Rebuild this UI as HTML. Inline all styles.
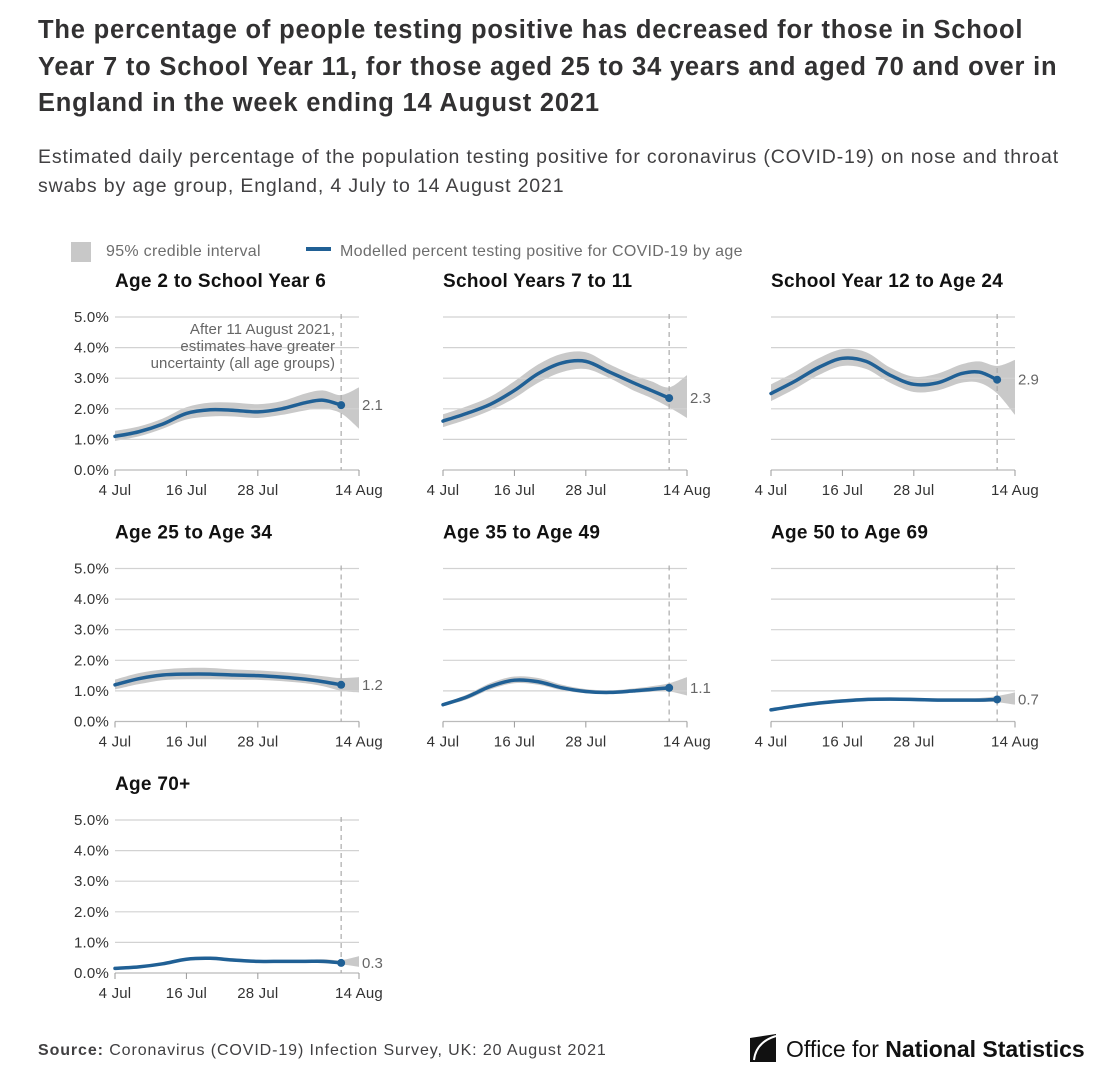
<!DOCTYPE html>
<html><head><meta charset="utf-8">
<style>
body{margin:0;background:#fff;font-family:"Liberation Sans",sans-serif;}
#wrap{position:relative;width:1118px;height:1080px;overflow:hidden;}
.t{position:absolute;left:38px;top:12px;width:1080px;font-size:25.5px;font-weight:bold;color:#323132;line-height:36.5px;letter-spacing:0.8px;white-space:nowrap;}
.s{position:absolute;left:38px;top:143px;width:1080px;font-size:19.5px;color:#414042;line-height:28.5px;letter-spacing:0.85px;white-space:nowrap;}
.src{position:absolute;left:38px;top:1042px;font-size:16px;color:#414042;letter-spacing:0.9px;}
.logo{position:absolute;left:750px;top:1034px;font-size:23px;color:#111;}
</style></head><body>
<div id="wrap">
<div class="t">The percentage of people testing positive has decreased for those in School<br>Year 7 to School Year 11, for those aged 25 to 34 years and aged 70 and over in<br>England in the week ending 14 August 2021</div>
<div class="s">Estimated daily percentage of the population testing positive for coronavirus (COVID-19) on nose and throat<br>swabs by age group, England, 4 July to 14 August 2021</div>
<svg id="chart" width="1118" height="1080" style="position:absolute;left:0;top:0"></svg>
<div class="src"><b>Source:</b> Coronavirus (COVID-19) Infection Survey, UK: 20 August 2021</div>
<div class="logo"><svg width="30" height="28" style="vertical-align:-5px;margin-right:6px"><path d="M0 4 L26 0 L26 28 L0 28 Z" fill="#111"/><path d="M26 2 Q6 8 4 26" stroke="#fff" stroke-width="2" fill="none"/></svg>Office for <b style="font-weight:bold">National Statistics</b></div>
</div>
<script>
const titles=["Age 2 to School Year 6","School Years 7 to 11","School Year 12 to Age 24","Age 25 to Age 34","Age 35 to Age 49","Age 50 to Age 69","Age 70+"];
const days=[0,4,8,12,16,20,24,28,32,35,38,41];
const central=[
[1.1,1.25,1.5,1.85,1.97,1.95,1.9,2.0,2.2,2.28,2.12],
[1.6,1.85,2.15,2.6,3.15,3.5,3.55,3.2,2.85,2.6,2.35],
[2.5,2.9,3.35,3.65,3.55,3.1,2.8,2.85,3.15,3.2,2.95],
[1.2,1.4,1.52,1.55,1.55,1.52,1.5,1.45,1.38,1.3,1.2],
[0.55,0.8,1.15,1.35,1.3,1.1,0.98,0.95,1.0,1.05,1.1],
[0.38,0.5,0.6,0.67,0.72,0.73,0.72,0.7,0.7,0.7,0.72],
[0.15,0.2,0.3,0.45,0.48,0.42,0.38,0.38,0.38,0.38,0.33]];
const lower=[
[0.95,1.1,1.35,1.65,1.75,1.75,1.7,1.8,1.95,2.0,1.85,1.35],
[1.4,1.65,1.95,2.35,2.85,3.2,3.3,3.0,2.6,2.35,2.05,1.7],
[2.25,2.65,3.1,3.4,3.3,2.85,2.55,2.6,2.85,2.85,2.5,1.8],
[1.05,1.22,1.35,1.38,1.38,1.37,1.36,1.32,1.25,1.15,1.0,0.95],
[0.5,0.72,1.05,1.25,1.2,1.02,0.92,0.9,0.94,0.97,0.98,0.85],
[0.33,0.45,0.55,0.62,0.67,0.68,0.67,0.65,0.65,0.64,0.63,0.55],
[0.12,0.17,0.26,0.4,0.43,0.37,0.34,0.34,0.33,0.32,0.28,0.2]];
const upper=[
[1.28,1.42,1.68,2.05,2.2,2.2,2.15,2.25,2.5,2.6,2.45,2.7],
[1.82,2.08,2.4,2.9,3.45,3.8,3.85,3.45,3.1,2.9,2.7,3.1],
[2.8,3.2,3.65,3.95,3.85,3.35,3.05,3.15,3.45,3.55,3.4,3.6],
[1.37,1.58,1.7,1.75,1.75,1.7,1.67,1.62,1.55,1.48,1.42,1.45],
[0.6,0.88,1.26,1.47,1.42,1.2,1.06,1.02,1.08,1.15,1.25,1.45],
[0.42,0.55,0.66,0.73,0.78,0.79,0.78,0.76,0.76,0.77,0.83,0.95],
[0.18,0.23,0.35,0.5,0.54,0.48,0.43,0.43,0.43,0.45,0.42,0.55]];
const endLabels=["2.1","2.3","2.9","1.2","1.1","0.7","0.3"];
const yTicks=[0,1,2,3,4,5];
const xTickDays=[0,12,24,41];
const xTickLabels=["4 Jul","16 Jul","28 Jul","14 Aug"];
const cutoffDay=38;

const svg=document.getElementById('chart');
const NS='http://www.w3.org/2000/svg';
function mk(tag,attrs,parent){const e=document.createElementNS(NS,tag);for(const k in attrs)e.setAttribute(k,attrs[k]);(parent||svg).appendChild(e);return e;}
function smooth(pts){let d='M'+pts[0][0]+' '+pts[0][1];for(let i=0;i<pts.length-1;i++){const p0=pts[i-1]||pts[i],p1=pts[i],p2=pts[i+1],p3=pts[i+2]||p2;
d+=' C'+(p1[0]+(p2[0]-p0[0])/6)+' '+(p1[1]+(p2[1]-p0[1])/6)+' '+(p2[0]-(p3[0]-p1[0])/6)+' '+(p2[1]-(p3[1]-p1[1])/6)+' '+p2[0]+' '+p2[1];}return d;}

let lg=mk('rect',{x:71,y:242,width:20,height:20,fill:'#c8c8c8'});

let lt=mk('text',{x:106,y:256,'font-size':16,'letter-spacing':0.3,fill:'#6d6d6d'});lt.textContent='95% credible interval';

let ll=mk('line',{x1:306,y1:249,x2:331,y2:249,stroke:'#206095','stroke-width':4});

let lt2=mk('text',{x:340,y:256,'font-size':16,'letter-spacing':0.3,fill:'#6d6d6d'});lt2.textContent='Modelled percent testing positive for COVID-19 by age';


titles.forEach((title,i)=>{
  const col=i%3,row=Math.floor(i/3);
  const x0=115+col*328,y0=470+row*251.5;
  const g=mk('g',{});
  
  const X=d=>x0+d*244/41, Y=v=>y0-v*30.6;
  const tt=mk('text',{x:x0,y:y0-183,'font-size':19,'letter-spacing':0.3,'font-weight':'bold',fill:'#111'},g);tt.textContent=title;
  
  const up=days.map((d,j)=>[X(d),Y(upper[i][j])]);
  const lo=days.map((d,j)=>[X(d),Y(lower[i][j])]).reverse();
  let bd=smooth(up)+' L'+smooth(lo).slice(1)+' Z';
  const band=mk('path',{d:bd,fill:'#c9c9c9'},g);
  
  yTicks.forEach(v=>{
    const gl=mk('line',{x1:x0,x2:x0+244,y1:Y(v),y2:Y(v),stroke:v===0?'#bbb':'#d2d2d2','stroke-width':1.2},g);
    
    if(col===0){const yl=mk('text',{x:x0-6,y:Y(v)+5,'font-size':15,'letter-spacing':0.2,fill:'#333','text-anchor':'end'},g);yl.textContent=v.toFixed(1)+'%';
      }
  });
  xTickDays.forEach((d,k)=>{
    const tk=mk('line',{x1:X(d),x2:X(d),y1:y0,y2:y0+6,stroke:'#999'},g);
    
    const xl=mk('text',{x:X(d),y:y0+25,'font-size':15,'letter-spacing':0.2,fill:'#333','text-anchor':'middle'},g);xl.textContent=xTickLabels[k];
    
  });
  const dl=mk('line',{x1:X(cutoffDay),x2:X(cutoffDay),y1:Y(5)-3,y2:y0,stroke:'#aaa','stroke-dasharray':'5,4','stroke-width':1.2},g);
  
  const cp=central[i].map((v,j)=>[X(days[j]),Y(v)]);
  const ln=mk('path',{d:smooth(cp),fill:'none',stroke:'#206095','stroke-width':3.5,'stroke-linecap':'round'},g);
  
  const last=cp[cp.length-1];
  const dot=mk('circle',{cx:last[0],cy:last[1],r:4,fill:'#206095'},g);
  
  const el=mk('text',{x:x0+247,y:last[1]+5,'font-size':15,fill:'#666'},g);el.textContent=endLabels[i];
  
  if(i===0){
    ['After 11 August 2021,','estimates have greater','uncertainty (all age groups)'].forEach((s,k)=>{
      const a=mk('text',{x:X(cutoffDay)-6,y:Y(5)+17+k*17,'font-size':15,'letter-spacing':0.1,fill:'#666','text-anchor':'end'},g);a.textContent=s;
      
    });
  }
});
</script>
</body></html>
